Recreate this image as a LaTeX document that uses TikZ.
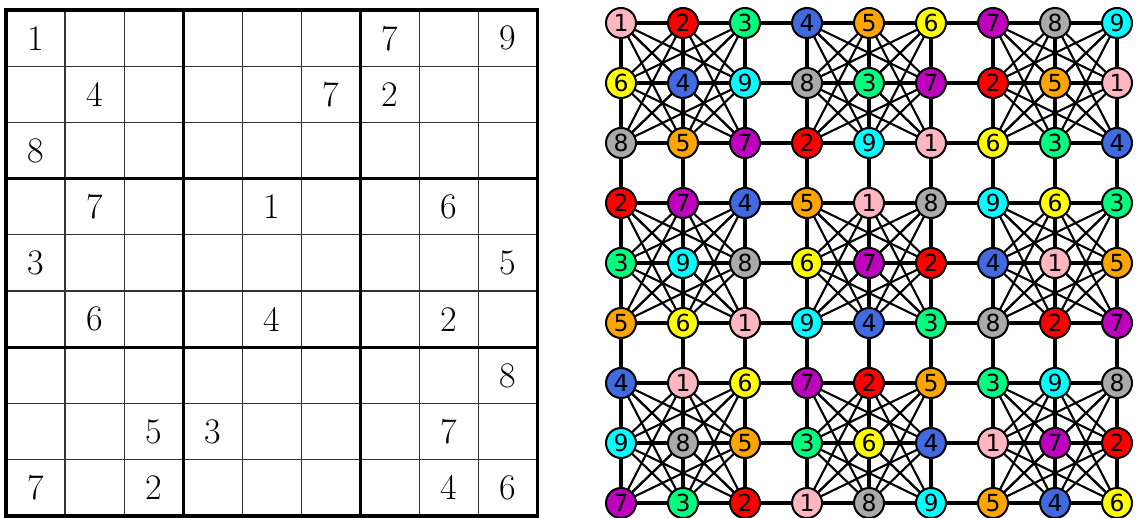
\documentclass[tikz,border=0pt]{standalone}
\usepackage{fontspec}
\newfontfamily\gfont{DejaVu Sans}
\usetikzlibrary{backgrounds}
\definecolor{c1}{HTML}{FFB6C1}
\definecolor{c2}{HTML}{FF0000}
\definecolor{c3}{HTML}{00FF7F}
\definecolor{c4}{HTML}{4169E1}
\definecolor{c5}{HTML}{FFA500}
\definecolor{c6}{HTML}{FFFF00}
\definecolor{c7}{HTML}{BF00BF}
\definecolor{c8}{HTML}{AAAAAA}
\definecolor{c9}{HTML}{00FFFF}
\tikzset{
  gnode/.style={circle, draw=black, line width=2pt, minimum size=30pt, inner sep=0pt, font=\gfont\fontsize{23.5}{23.5}\selectfont},
  sdigit/.style={inner sep=0pt, font=\fontsize{36}{36}\selectfont},
  thinline/.style={line width=1.2pt, draw=black!80},
  thickline/.style={line width=3.2pt, draw=black},
  rowedge/.style={line width=3.2pt, draw=black},
  boxedge/.style={line width=2.1pt, draw=black}
}
\begin{document}
\begin{tikzpicture}[x=1pt,y=-1pt]
\useasboundingbox (0,0) rectangle (1137,518);
% ---------- Sudoku grid ----------
\def\gx{6}\def\gy{10}\def\cw{59.06}\def\ch{56.22}
\foreach \k in {1,2,4,5,7,8}{
  \draw[thinline] (\gx+\k*\cw,\gy) -- (\gx+\k*\cw,\gy+9*\ch);
  \draw[thinline] (\gx,\gy+\k*\ch) -- (\gx+9*\cw,\gy+\k*\ch);
}
\foreach \k in {3,6}{
  \draw[thickline] (\gx+\k*\cw,\gy) -- (\gx+\k*\cw,\gy+9*\ch);
  \draw[thickline] (\gx,\gy+\k*\ch) -- (\gx+9*\cw,\gy+\k*\ch);
}
\draw[thickline] (\gx,\gy) rectangle (\gx+9*\cw,\gy+9*\ch);
\foreach \r/\cc/\v in {0/0/1,0/6/7,0/8/9,1/1/4,1/5/7,1/6/2,2/0/8,3/1/7,3/4/1,3/7/6,4/0/3,4/8/5,5/1/6,5/4/4,5/7/2,6/8/8,7/2/5,7/3/3,7/7/7,8/0/7,8/2/2,8/7/4,8/8/6}{
  \node[sdigit] (s-\r-\cc) at (\gx+\cc*\cw+0.5*\cw, \gy+\r*\ch+0.5*\ch) {\v};
}
% ---------- Graph ----------
\def\nx{621}\def\ny{23}\def\dx{62}\def\dy{60}
\foreach \row [count=\i from 0] in {{1,2,3,4,5,6,7,8,9},{6,4,9,8,3,7,2,5,1},{8,5,7,2,9,1,6,3,4},{2,7,4,5,1,8,9,6,3},{3,9,8,6,7,2,4,1,5},{5,6,1,9,4,3,8,2,7},{4,1,6,7,2,5,3,9,8},{9,8,5,3,6,4,1,7,2},{7,3,2,1,8,9,5,4,6}}{
  \foreach \v [count=\j from 0] in \row {
    \node[gnode, fill=c\v] (n-\i-\j) at (\nx+\j*\dx, \ny+\i*\dy) {\v};
  }
}
\begin{pgfonlayer}{background}
  \foreach \i in {0,...,8}{
    \foreach \j [evaluate=\j as \jn using int(\j+1)] in {0,...,7}{
      \draw[rowedge] (n-\i-\j.center) -- (n-\i-\jn.center);
      \draw[rowedge] (n-\j-\i.center) -- (n-\jn-\i.center);
    }
  }
  \foreach \bi in {0,1,2}{\foreach \bj in {0,1,2}{
    \foreach \ua in {0,1,2}{\foreach \ub in {0,1,2}{\foreach \uc in {0,1,2}{\foreach \ud in {0,1,2}{
      \ifnum\uc>\ua\relax
        \ifnum\ud=\ub\relax\else
          \pgfmathtruncatemacro\ra{3*\bi+\ua}
          \pgfmathtruncatemacro\ca{3*\bj+\ub}
          \pgfmathtruncatemacro\rb{3*\bi+\uc}
          \pgfmathtruncatemacro\cb{3*\bj+\ud}
          \draw[boxedge] (n-\ra-\ca.center) -- (n-\rb-\cb.center);
        \fi
      \fi
    }}}}
  }}
\end{pgfonlayer}
\end{tikzpicture}
\end{document}
